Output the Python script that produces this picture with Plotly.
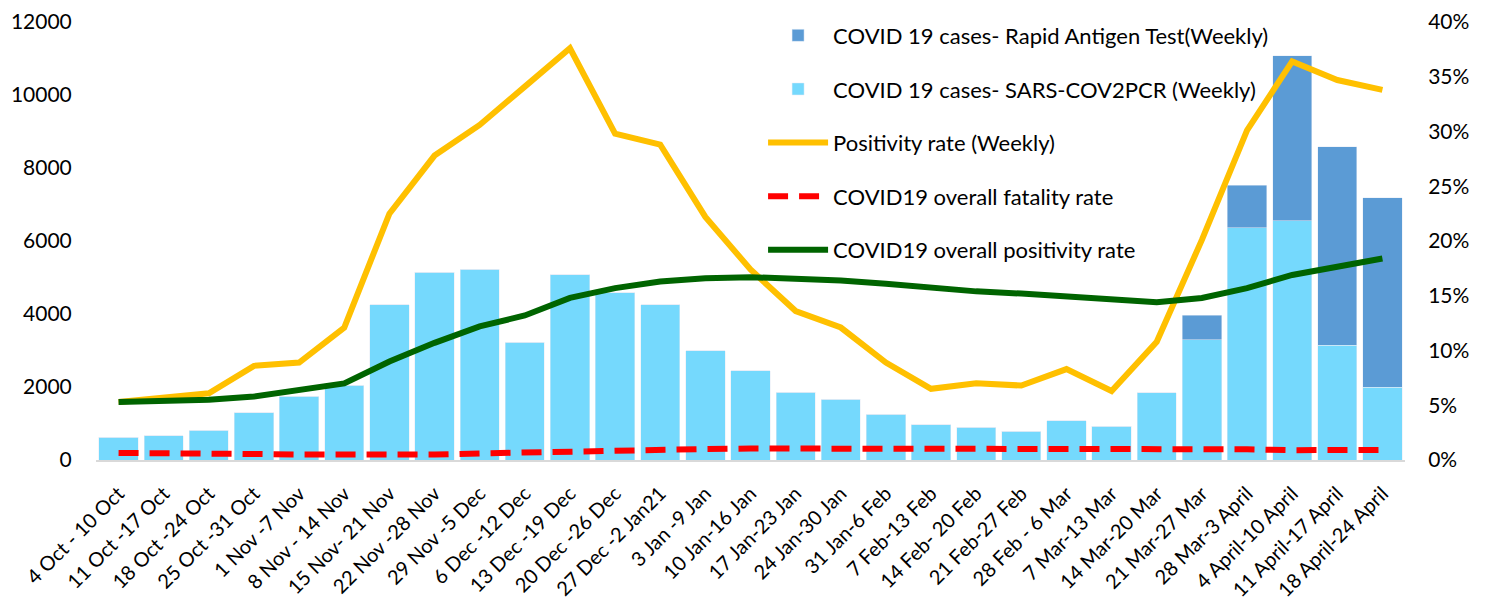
import plotly.graph_objects as go

weeks = ["4 Oct - 10 Oct", "11 Oct -17 Oct", "18 Oct -24 Oct", "25 Oct -31 Oct",
         "1 Nov -7 Nov", "8 Nov - 14 Nov", "15 Nov- 21 Nov", "22 Nov -28 Nov",
         "29 Nov -5 Dec", "6 Dec -12 Dec", "13 Dec -19 Dec", "20 Dec -26 Dec",
         "27 Dec -2 Jan21", "3 Jan -9 Jan", "10 Jan-16 Jan", "17 Jan-23 Jan",
         "24 Jan-30 Jan", "31 Jan-6 Feb", "7 Feb-13 Feb", "14 Feb- 20 Feb",
         "21 Feb-27 Feb", "28 Feb - 6 Mar", "7 Mar-13 Mar", "14 Mar-20 Mar",
         "21 Mar-27 Mar", "28 Mar-3 April", "4 April-10 April", "11 April-17 April",
         "18 April-24 April"]

pcr_cases = [630, 660, 820, 1290, 1750, 2050, 4250, 5150, 5230, 3230, 5070, 4580,
             4250, 2990, 2440, 1860, 1670, 1260, 960, 900, 790, 1070, 930, 1840,
             3290, 6360, 6550, 3150, 2000]
rat_cases = [0, 0, 0, 0, 0, 0, 0, 0, 0, 0, 0, 0, 0, 0, 0, 0, 0, 0, 0, 0, 0, 0, 0, 0,
             680, 1170, 4520, 5430, 5180]

weekly_positivity = [0.053, 0.057, 0.061, 0.086, 0.089, 0.121, 0.225, 0.278, 0.306,
                     0.341, 0.376, 0.298, 0.288, 0.222, 0.174, 0.136, 0.121, 0.089,
                     0.065, 0.070, 0.068, 0.083, 0.063, 0.108, 0.201, 0.301, 0.364,
                     0.347, 0.338]
fatality_rate = [0.0065, 0.0065, 0.0062, 0.0055, 0.0050, 0.0048, 0.0048, 0.0050,
                 0.0060, 0.0070, 0.0080, 0.0090, 0.0095, 0.0100, 0.0105, 0.0105,
                 0.0105, 0.0105, 0.0105, 0.0105, 0.0105, 0.0105, 0.0105, 0.0105,
                 0.0100, 0.0098, 0.0090, 0.0090, 0.0092]
overall_positivity = [0.053, 0.054, 0.055, 0.058, 0.064, 0.070, 0.090, 0.107, 0.122,
                      0.132, 0.148, 0.157, 0.163, 0.166, 0.167, 0.166, 0.164, 0.161,
                      0.157, 0.154, 0.152, 0.149, 0.146, 0.144, 0.148, 0.157, 0.169,
                      0.177, 0.184]

font_family = "Lato, Open Sans, sans-serif"

fig = go.Figure()

fig.add_trace(go.Bar(x=weeks, y=pcr_cases, name="COVID 19 cases- SARS-COV2PCR (Weekly)",
                     marker_color="#75d9fd", legendgroup="b", legendrank=2))
fig.add_trace(go.Bar(x=weeks, y=rat_cases, name="COVID 19 cases- Rapid Antigen Test(Weekly)",
                     marker_color="#5b9bd5", legendgroup="a", legendrank=1))
fig.add_trace(go.Scatter(x=weeks, y=weekly_positivity, yaxis="y2", mode="lines",
                         name="Positivity rate (Weekly)", line=dict(color="#ffc000", width=6),
                         legendgroup="c", legendrank=3))
fig.add_trace(go.Scatter(x=weeks, y=overall_positivity, yaxis="y2", mode="lines",
                         name="COVID19 overall positivity rate", line=dict(color="#006400", width=6),
                         legendgroup="e", legendrank=5))
fig.add_trace(go.Scatter(x=weeks, y=fatality_rate, yaxis="y2", mode="lines",
                         name="COVID19 overall fatality rate",
                         line=dict(color="#ff0000", width=6, dash="20px,11px"),
                         legendgroup="d", legendrank=4))

# page body adds an 8px offset, so margins are set 8px smaller on top/left
fig.update_layout(
    width=1487, height=598,
    margin=dict(l=88, r=90, t=14, b=146, autoexpand=False),
    paper_bgcolor="white", plot_bgcolor="white",
    barmode="stack", bargap=0.13,
    font=dict(family=font_family, size=21, color="#000000"),
    xaxis=dict(tickangle=-45, tickfont=dict(size=20), showgrid=False, automargin=False,
               showline=True, linecolor="#d9d9d9", linewidth=2, ticks="",
               ticklabelshift=0, ticklabelstandoff=12),
    yaxis=dict(range=[0, 12000], dtick=2000, tickformat="d", showgrid=False, zeroline=False,
               automargin=False, tickfont=dict(size=21), ticks="outside", ticklen=19,
               tickcolor="white"),
    yaxis2=dict(range=[0, 0.4], dtick=0.05, tickformat=".0%", overlaying="y", side="right",
                showgrid=False, zeroline=False, automargin=False, tickfont=dict(size=21),
                ticks="outside", ticklen=18, tickcolor="white"),
    legend=dict(x=0.5096, y=1.017, xanchor="left", yanchor="top",
                traceorder="grouped", tracegroupgap=22, bgcolor="rgba(0,0,0,0)",
                font=dict(size=22), itemwidth=60),
    showlegend=True,
)

fig.write_html("out.html")
